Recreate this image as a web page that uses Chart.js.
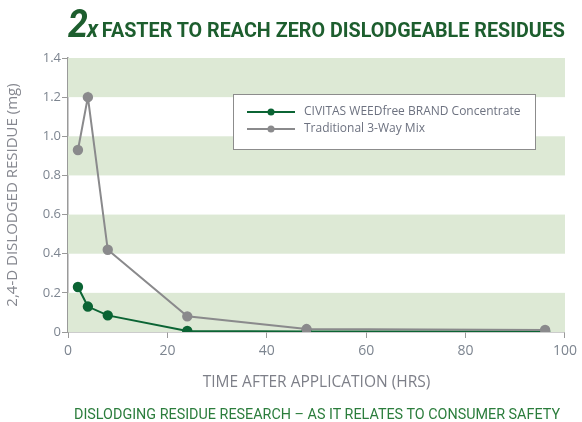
<!DOCTYPE html>
<html>
<head>
<meta charset="utf-8">
<script src="https://cdn.jsdelivr.net/npm/chart.js@4/dist/chart.umd.min.js"></script>
<style>
  html, body { margin: 0; padding: 0; background: #fff; }
  #wrap { position: relative; width: 582px; height: 422px; overflow: hidden; }
  #chartCanvas { position: absolute; left: 0; top: 0; }
  .fit { position: absolute; white-space: nowrap; transform-origin: 0 0; }
  #title {
    left: 68px; top: 2px; color: #1d5e2e;
    font-family: "Roboto", "Liberation Sans", sans-serif; font-weight: bold; font-size: 21px;
  }
  #title .big { font-size: 38px; font-style: italic; letter-spacing: -1px; }
  #title .x { font-size: 24px; font-style: italic; margin-right: 4px; }
  #footer {
    left: 74px; top: 406px; color: #2b7d3c;
    font-family: "Roboto", "Liberation Sans", sans-serif; font-size: 14px;
  }
</style>
</head>
<body>
<div id="wrap">
  <canvas id="chartCanvas" width="582" height="422"></canvas>
  <div id="title" class="fit"><span class="big">2</span><span class="x">x</span>FASTER TO REACH ZERO DISLODGEABLE RESIDUES</div>
  <div id="footer" class="fit">DISLODGING RESIDUE RESEARCH – AS IT RELATES TO CONSUMER SAFETY</div>
</div>
<script>
  // Data.
  const hours = [2, 4, 8, 24, 48, 96];
  const civitasValues = [0.23, 0.13, 0.085, 0.005, 0.003, 0.003];
  const traditionalValues = [0.93, 1.2, 0.42, 0.08, 0.015, 0.01];
  const seriesNames = ["CIVITAS WEEDfree BRAND Concentrate", "Traditional 3-Way Mix"];
  const seriesColors = ["#0b6434", "#8a8a8c"];
  const yTicks = [0, 0.2, 0.4, 0.6, 0.8, 1, 1.2, 1.4];
  const xTicks = [0, 20, 40, 60, 80, 100];

  const labelColor = "#7d8590";
  const axisColor = "#9a9a9a";
  const bandColor = "#dde9d5";

  // The heading text is condensed in the reference; squeeze to the same width.
  function fitWidth(id, target) {
    const el = document.getElementById(id);
    const w = el.getBoundingClientRect().width;
    el.style.transform = "scaleX(" + (target / w) + ")";
  }
  fitWidth("title", 497);
  fitWidth("footer", 486);

  // Alternate green bands behind the plot.
  const bandsPlugin = {
    id: "bands",
    beforeDatasetsDraw(chart) {
      const ctx = chart.ctx;
      const y = chart.scales.y;
      const area = chart.chartArea;
      ctx.save();
      ctx.fillStyle = bandColor;
      for (let i = 0; i < yTicks.length - 1; i += 2) {
        const top = y.getPixelForValue(yTicks[i + 1]);
        const bottom = y.getPixelForValue(yTicks[i]);
        ctx.fillRect(area.left, top, area.right - area.left, bottom - top);
      }
      ctx.restore();
    }
  };

  // Boxed legend sitting inside the plot area.
  const boxLegendPlugin = {
    id: "boxLegend",
    afterDatasetsDraw(chart) {
      const ctx = chart.ctx;
      const x0 = 233, y0 = 94, w = 302, h = 55;
      ctx.save();
      ctx.fillStyle = "#fff";
      ctx.fillRect(x0, y0, w, h);
      ctx.strokeStyle = "#8c8c8c";
      ctx.lineWidth = 1;
      ctx.strokeRect(x0 + 0.5, y0 + 0.5, w, h);
      ctx.font = "12px 'Open Sans', sans-serif";
      ctx.textBaseline = "middle";
      seriesNames.forEach((name, i) => {
        const ly = 112 + i * 17;
        ctx.strokeStyle = seriesColors[i];
        ctx.lineWidth = 2;
        ctx.beginPath();
        ctx.moveTo(247, ly);
        ctx.lineTo(295, ly);
        ctx.stroke();
        ctx.fillStyle = seriesColors[i];
        ctx.beginPath();
        ctx.arc(271, ly, 3.5, 0, Math.PI * 2);
        ctx.fill();
        ctx.fillStyle = "#6d7280";
        ctx.fillText(name, 304, ly);
      });
      ctx.restore();
    }
  };

  const makeSeries = (values, i) => ({
    label: seriesNames[i],
    data: hours.map((h, k) => ({ x: h, y: values[k] })),
    borderColor: seriesColors[i],
    backgroundColor: seriesColors[i],
    borderWidth: 2,
    pointRadius: 4.2,
    pointHoverRadius: 4.2,
    tension: 0
  });

  new Chart(document.getElementById("chartCanvas"), {
    type: "line",
    data: {
      datasets: [
        makeSeries(traditionalValues, 1),
        makeSeries(civitasValues, 0)
      ]
    },
    options: {
      responsive: false,
      animation: false,
      layout: { padding: { left: 0, right: 14, top: 58, bottom: 30 } },
      plugins: {
        legend: { display: false },
        tooltip: { enabled: false }
      },
      scales: {
        x: {
          type: "linear",
          min: 0,
          max: 100,
          afterBuildTicks: s => { s.ticks = xTicks.map(v => ({ value: v })); },
          afterFit: s => { s.height = 60; },
          grid: { drawOnChartArea: false, drawTicks: true, tickLength: 6, color: axisColor },
          border: { color: axisColor, width: 1.5 },
          ticks: { color: labelColor, font: { family: "'Open Sans', sans-serif", size: 14 }, padding: 5 },
          title: {
            display: true,
            text: "TIME AFTER APPLICATION (HRS)",
            color: "#7d7f88",
            font: { family: "'Open Sans', sans-serif", size: 15.5 },
            padding: { top: 0, bottom: 0 }
          }
        },
        y: {
          min: 0,
          max: 1.4,
          afterBuildTicks: s => { s.ticks = yTicks.map(v => ({ value: v })); },
          afterFit: s => { s.width = 68; },
          grid: { drawOnChartArea: false, drawTicks: true, tickLength: 6, color: axisColor },
          border: { color: axisColor, width: 1.5 },
          ticks: { color: labelColor, font: { family: "'Open Sans', sans-serif", size: 13 }, padding: 1 },
          title: {
            display: true,
            text: "2,4-D DISLODGED RESIDUE (mg)",
            color: "#85878f",
            font: { family: "'Open Sans', sans-serif", size: 15 },
            padding: { top: 4, bottom: 0 }
          }
        }
      }
    },
    plugins: [bandsPlugin, boxLegendPlugin]
  });
</script>
</body>
</html>
